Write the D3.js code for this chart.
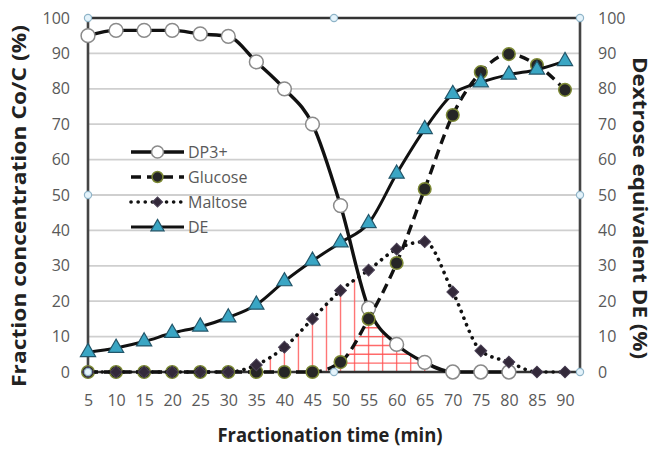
<!DOCTYPE html>
<html><head><meta charset="utf-8">
<script src="https://cdn.jsdelivr.net/npm/d3@7"></script>
<style>
html,body{margin:0;padding:0;background:#fff;}
svg{display:block;}
text{font-family:"Open Sans",sans-serif;}
</style></head>
<body>
<svg id="chart" width="655" height="450"></svg>
<script>
// ---- data ----
const times   = [5,10,15,20,25,30,35,40,45,50,55,60,65,70,75,80,85,90];
const dp3     = [95,96.5,96.5,96.5,95.5,94.8,87.6,80,70,47,18,7.8,2.7,0,0,0,null,null];
const glucose = [0,0,0,0,0,0,0,0,0,2.8,15,30.8,51.7,72.6,84.7,89.8,86.7,79.7];
const maltose = [0,0,0,0,0,0,2,7,15,23,28.8,34.7,36.8,22.6,6,2.8,0,0];
const de      = [5.6,6.8,8.6,11,12.8,15.4,19,25.6,31.4,36.6,42,56,68.6,78.5,81.8,84,85.4,87.8];
const yTicks  = [0,10,20,30,40,50,60,70,80,90,100];
const seriesNames = ["DP3+","Glucose","Maltose","DE"];
// hatch line positions (data units)
const hatchX = [37.5,40,42.5,45,47.5,50,52.5,55,57.5,60,62.5,65];
const hatchY = [2.5,5,7.5,10,12.5,15];

// ---- layout ----
const L = 88, R = 580, T = 18, B = 372;
const svg = d3.select("#chart");
const x = d3.scaleLinear().domain([5,90]).range([L,565]);
const y = d3.scaleLinear().domain([0,100]).range([B,T]);
const y2 = d3.scaleLinear().domain([0,100]).range([B,T]);

// gridlines
svg.append("g").selectAll("line").data(yTicks.filter(d=>d>0&&d<100)).join("line")
  .attr("x1",L).attr("x2",R).attr("y1",d=>y(d)).attr("y2",d=>y(d))
  .attr("stroke","#cfcfcf").attr("stroke-width",1.8);

// axes with D3
const axL = d3.axisLeft(y).tickValues(yTicks).tickSize(0).tickPadding(18);
const gL = svg.append("g").attr("transform",`translate(${L},0)`).call(axL);
const axR = d3.axisRight(y2).tickValues(yTicks).tickSize(0).tickPadding(18);
const gR = svg.append("g").attr("transform",`translate(${R},0)`).call(axR);
const axB = d3.axisBottom(x).tickValues(times).tickSize(0).tickPadding(23);
const gB = svg.append("g").attr("transform",`translate(0,${B})`).call(axB);
[gL,gR,gB].forEach(g=>{
  g.select(".domain").remove();
  g.selectAll("text").attr("font-size",16).attr("fill","#595959")
   .attr("font-family","'Open Sans',sans-serif");
});

// frame
const frame = svg.append("g").attr("stroke","#333").attr("stroke-width",2.6);
frame.append("line").attr("x1",L).attr("x2",R).attr("y1",T).attr("y2",T);
frame.append("line").attr("x1",L).attr("x2",L).attr("y1",T).attr("y2",B).attr("stroke","#444");
frame.append("line").attr("x1",R).attr("x2",R).attr("y1",T).attr("y2",B).attr("stroke","#444");

// clip areas
const defs = svg.append("defs");
function areaPath(vals){
  return d3.area().defined(d=>d[1]!=null).curve(d3.curveMonotoneX)
    .x(d=>x(d[0])).y0(y(0)).y1(d=>y(d[1]))(times.map((t,i)=>[t,vals[i]]));
}
defs.append("clipPath").attr("id","cDP").append("path").attr("d",areaPath(dp3));
defs.append("clipPath").attr("id","cMal").append("path").attr("d",areaPath(maltose));
defs.append("clipPath").attr("id","cGlu").append("path").attr("d",areaPath(glucose));

const h1 = svg.append("g").attr("clip-path","url(#cDP)").append("g").attr("clip-path","url(#cMal)");
h1.selectAll("line").data(hatchX).join("line")
  .attr("x1",d=>x(d)).attr("x2",d=>x(d)).attr("y1",y(0)).attr("y2",y(100))
  .attr("stroke","#ff5f5f").attr("stroke-width",1.4).attr("opacity",0.85);
const h2 = svg.append("g").attr("clip-path","url(#cDP)").append("g").attr("clip-path","url(#cGlu)");
h2.selectAll("line").data(hatchY).join("line")
  .attr("x1",x(40)).attr("x2",x(75)).attr("y1",d=>y(d)).attr("y2",d=>y(d))
  .attr("stroke","#ff5050").attr("stroke-width",1.4).attr("opacity",0.85);

// bottom axis line
svg.append("line").attr("x1",L).attr("x2",R).attr("y1",B).attr("y2",B)
  .attr("stroke","#333").attr("stroke-width",2.6);

// series
const lineGen = d3.line().defined(d=>d[1]!=null).curve(d3.curveMonotoneX)
  .x(d=>x(d[0])).y(d=>y(d[1]));
const styles = {
  "DP3+":   {vals:dp3, dash:null, w:3.4, sym:d3.symbolCircle, size:150, rot:0, fill:"#fff", stroke:"#8a8a8a", sw:1.5},
  "Glucose":{vals:glucose, dash:"10,6", w:3.4, sym:d3.symbolCircle, size:125, rot:0, fill:"#262626", stroke:"#7d8a35", sw:1.5},
  "Maltose":{vals:maltose, dash:"0.1,7", w:3.6, sym:d3.symbolSquare, size:70, rot:45, fill:"#33293a", stroke:"#4a4055", sw:1},
  "DE":     {vals:de, dash:null, w:3, sym:d3.symbolTriangle, size:100, rot:0, fill:"#3aa6c4", stroke:"#23566a", sw:1.2}
};
seriesNames.forEach(name=>{
  const s = styles[name];
  const data = times.map((t,i)=>[t,s.vals[i]]);
  const g = svg.append("g");
  g.append("path").attr("d",lineGen(data)).attr("fill","none")
    .attr("stroke","#111").attr("stroke-width",s.w)
    .attr("stroke-dasharray",s.dash).attr("stroke-linecap",s.dash&&s.dash.startsWith("0.1")?"round":"butt");
  g.selectAll("path.m").data(data.filter(d=>d[1]!=null)).join("path").attr("class","m")
    .attr("transform",d=>`translate(${x(d[0])},${y(d[1])}) rotate(${s.rot})`)
    .attr("d",d3.symbol().type(s.sym).size(s.size))
    .attr("fill",s.fill).attr("stroke",s.stroke).attr("stroke-width",s.sw);
});

// legend
const lg = svg.append("g");
seriesNames.forEach((name,i)=>{
  const s = styles[name];
  const yy = 152 + i*25;
  lg.append("line").attr("x1",131).attr("x2",184).attr("y1",yy).attr("y2",yy)
    .attr("stroke","#111").attr("stroke-width",s.w)
    .attr("stroke-dasharray",s.dash).attr("stroke-linecap",s.dash&&s.dash.startsWith("0.1")?"round":"butt");
  lg.append("path").attr("transform",`translate(157.5,${yy}) rotate(${s.rot})`)
    .attr("d",d3.symbol().type(s.sym).size(s.size*0.75))
    .attr("fill",s.fill).attr("stroke",s.stroke).attr("stroke-width",s.sw);
  lg.append("text").attr("x",188).attr("y",yy+5.5).attr("font-size",16)
    .attr("fill","#595959").text(name);
});

// titles
svg.append("text").attr("transform","translate(26,206) rotate(-90)")
  .attr("text-anchor","middle").attr("font-size",20).attr("font-weight","bold")
  .attr("fill","#222").attr("textLength",362).attr("lengthAdjust","spacingAndGlyphs")
  .text("Fraction concentration Co/C (%)");
svg.append("text").attr("transform","translate(633,208) rotate(90)")
  .attr("text-anchor","middle").attr("font-size",19).attr("font-weight","bold")
  .attr("fill","#222").attr("textLength",302).attr("lengthAdjust","spacingAndGlyphs")
  .text("Dextrose equivalent DE (%)");
svg.append("text").attr("x",330).attr("y",442)
  .attr("text-anchor","middle").attr("font-size",19).attr("font-weight","bold")
  .attr("fill","#222").attr("textLength",225).attr("lengthAdjust","spacingAndGlyphs")
  .text("Fractionation time (min)");

// selection handles
const mx = (L+R)/2, my = (T+B)/2;
const handles = [[L,T],[mx,T],[R,T],[L,my],[R,my],[L,B],[mx,B],[R,B]];
svg.append("g").selectAll("circle").data(handles).join("circle")
  .attr("cx",d=>d[0]).attr("cy",d=>d[1]).attr("r",3.6)
  .attr("fill","#e4f3fb").attr("stroke","#8fb4c8").attr("stroke-width",1.2);
</script>
</body></html>
